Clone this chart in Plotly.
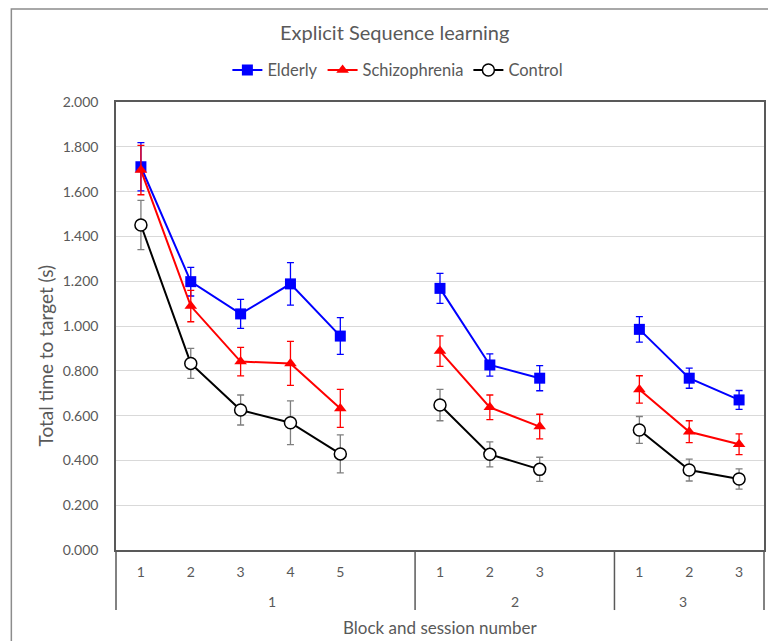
import plotly.graph_objects as go

# Sessions and blocks (one blank slot after sessions 1 and 2)
sessions = ["1", "2", "3"]
blocks_per_session = [[1, 2, 3, 4, 5], [1, 2, 3], [1, 2, 3]]
gap_after = [1, 1, 0]

# Mean total time to target (s)
elderly = [[1.711, 1.198, 1.054, 1.188, 0.955], [1.168, 0.826, 0.767], [0.985, 0.767, 0.670]]
schizophrenia = [[1.696, 1.089, 0.841, 0.833, 0.632], [0.888, 0.637, 0.551], [0.717, 0.528, 0.472]]
control = [[1.451, 0.833, 0.625, 0.568, 0.429], [0.647, 0.427, 0.360], [0.536, 0.357, 0.317]]

# Error bar half-widths
elderly_err = [[0.108, 0.064, 0.065, 0.095, 0.082], [0.067, 0.050, 0.056], [0.057, 0.045, 0.042]]
schizophrenia_err = [[0.110, 0.070, 0.064, 0.098, 0.085], [0.068, 0.055, 0.055], [0.061, 0.049, 0.046]]
control_err = [[0.110, 0.067, 0.067, 0.098, 0.085], [0.070, 0.056, 0.054], [0.060, 0.049, 0.045]]

y_ticks = [0.0, 0.2, 0.4, 0.6, 0.8, 1.0, 1.2, 1.4, 1.6, 1.8, 2.0]

# Category slot positions along the x axis
slot_x, slot_text, session_bounds = [], [], []
pos = 0
for blocks, gap in zip(blocks_per_session, gap_after):
    start = pos
    for b in blocks:
        slot_x.append(pos)
        slot_text.append(str(b))
        pos += 1
    pos += gap
    session_bounds.append((start - 0.5, pos - 0.5))
x_min, x_max = -0.5, pos - 0.5


def flatten(values):
    """Series laid out on the slots, with a break between sessions."""
    xs, ys = [], []
    i = 0
    for vals in values:
        for v in vals:
            xs.append(slot_x[i])
            ys.append(v)
            i += 1
        xs.append(None)
        ys.append(None)
    return xs, ys


def flatten_err(values):
    out = []
    for vals in values:
        out.extend(vals)
        out.append(None)
    return out


grey = "#595959"
fig = go.Figure()

series = [
    ("Elderly", elderly, elderly_err, "#0000FF",
     dict(symbol="square", size=11, color="#0000FF", line=dict(width=0)), "#0000FF"),
    ("Schizophrenia", schizophrenia, schizophrenia_err, "#FF0000",
     dict(symbol="triangle-up", size=11, color="#FF0000", line=dict(width=0)), "#FF0000"),
    ("Control", control, control_err, "#000000",
     dict(symbol="circle", size=12, color="#FFFFFF", line=dict(width=1.5, color="#000000")), "#7F7F7F"),
]

for name, vals, errs, color, marker, err_color in series:
    xs, ys = flatten(vals)
    fig.add_trace(go.Scatter(
        x=xs, y=ys, name=name, mode="lines+markers",
        line=dict(color=color, width=2),
        marker=marker,
        connectgaps=False,
        error_y=dict(type="data", array=flatten_err(errs), visible=True,
                     color=err_color, thickness=1.3, width=3.5),
    ))


def to_paper(x):
    return (x - x_min) / (x_max - x_min)


shapes = []
# Group dividers below the axis
divider_x = sorted({b for pair in session_bounds for b in pair})
for dx in divider_x:
    shapes.append(dict(type="line", xref="paper", yref="paper",
                       x0=to_paper(dx), x1=to_paper(dx), y0=0, y1=-0.134,
                       line=dict(color=grey, width=1.5)))
# Outer chart border
shapes.append(dict(type="rect", xref="paper", yref="paper",
                   x0=-0.1615, x1=1.2, y0=1.2076, y1=-0.3,
                   line=dict(color="#8C8C8C", width=1.5), fillcolor="rgba(0,0,0,0)",
                   layer="below"))

annotations = []
for label, (a, b) in zip(sessions, session_bounds):
    annotations.append(dict(text=label, x=to_paper((a + b) / 2), y=-0.114,
                            xref="paper", yref="paper", showarrow=False,
                            font=dict(size=14, color=grey), yanchor="middle"))
annotations.append(dict(text="Block and session number", x=0.5, y=-0.172,
                        xref="paper", yref="paper", showarrow=False,
                        font=dict(size=17, color=grey), yanchor="middle"))
annotations.append(dict(text="Total time to target (s)", x=-0.109, y=0.435,
                        xref="paper", yref="paper", showarrow=False, textangle=-90,
                        font=dict(size=19, color=grey), xanchor="center", yanchor="middle"))

fig.update_layout(
    width=768, height=641,
    margin=dict(l=116, r=2, t=102, b=91),
    paper_bgcolor="white", plot_bgcolor="white",
    font=dict(family="Lato, Open Sans, sans-serif", color=grey),
    title=dict(text="Explicit Sequence learning", x=0.514, xref="container",
               y=1 - 33 / 641, yref="container", xanchor="center", yanchor="middle",
               font=dict(size=20, color=grey)),
    legend=dict(orientation="h", x=0.435, xanchor="center", y=1.071, yanchor="middle",
                font=dict(size=16.5, color=grey), itemwidth=30, traceorder="normal"),
    shapes=shapes,
    annotations=annotations,
    showlegend=True,
)

fig.update_xaxes(
    range=[x_min, x_max], tickmode="array", tickvals=slot_x, ticktext=slot_text,
    showgrid=False, zeroline=False, showline=True, linecolor=grey, linewidth=1.5,
    mirror=True, ticks="", ticklabelstandoff=8,
    tickfont=dict(size=14, color=grey),
)
fig.update_yaxes(
    range=[0, 2.0], tickmode="array", tickvals=y_ticks, tickformat=".3f",
    showgrid=True, gridcolor="#D9D9D9", gridwidth=1.2, zeroline=False,
    showline=True, linecolor=grey, linewidth=1.5, mirror=True, ticks="",
    ticklabelstandoff=13,
    tickfont=dict(size=14, color=grey),
)

fig.write_html("out.html")
